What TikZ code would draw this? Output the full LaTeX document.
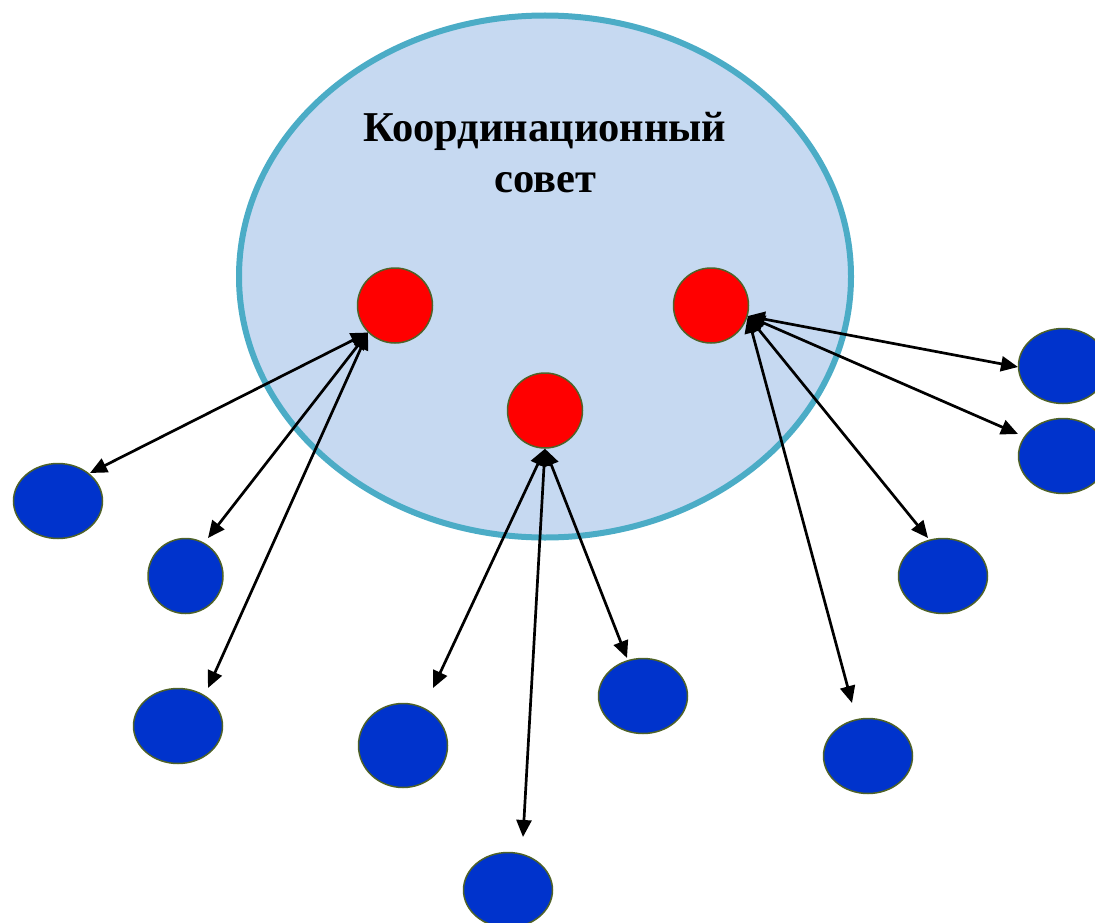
\documentclass[tikz,border=0pt]{standalone}
\usepackage{fontspec}
\setmainfont{Liberation Serif}
\usetikzlibrary{shapes.geometric,arrows.meta}
\definecolor{councilfill}{HTML}{C6D9F1}
\definecolor{councilline}{HTML}{4BACC6}
\definecolor{memberblue}{HTML}{0033CC}
\definecolor{outline}{HTML}{4F6228}
\tikzset{
  council/.style={ellipse, draw=councilline, line width=6pt, fill=councilfill, minimum width=612pt, minimum height=522pt, inner sep=0pt},
  leader/.style={circle, draw=outline, line width=1.5pt, fill=red, minimum size=75pt, inner sep=0pt},
  member/.style={ellipse, draw=outline, line width=1.5pt, fill=memberblue, minimum width=89pt, minimum height=75pt, inner sep=0pt},
  link/.style={line width=2.7pt, {Triangle[length=17pt,width=15pt]}-{Triangle[length=17pt,width=15pt]}},
  titletext/.style={font=\bfseries\fontsize{42.5}{50}\selectfont, anchor=base, inner sep=0pt}
}
\begin{document}
\begin{tikzpicture}[x=1pt,y=-1pt]
\useasboundingbox (0,0) rectangle (1095,923);
\node[council] (council) at (545,276.5) {};
\node[titletext] (title1) at (545,142) {Координационный};
\node[titletext] (title2) at (545,192) {совет};
\node[leader] (r1) at (395,305.5) {};
\node[leader] (r2) at (711,305.5) {};
\node[leader] (r3) at (545,410.5) {};
\node[member] (b1) at (58,501) {};
\node[member, minimum width=75pt] (b2) at (185.5,576) {};
\node[member] (b3) at (178,726) {};
\node[member, minimum height=84pt] (b4) at (403,745.5) {};
\node[member] (b5) at (508,890) {};
\node[member] (b6) at (643,696) {};
\node[member] (b7) at (868,756) {};
\node[member] (b8) at (943,576) {};
\node[member] (b9) at (1063,366) {};
\node[member] (b10) at (1063,456) {};
\coordinate (e1) at (90,473);
\coordinate (e2) at (208,538);
\coordinate (e3) at (208,688);
\coordinate (e4) at (433,688);
\coordinate (e5) at (523,837);
\coordinate (e6) at (627,658);
\coordinate (e7) at (852,703);
\coordinate (e8) at (928,538);
\coordinate (e9) at (1018,367);
\coordinate (e10) at (1018,434);
\draw[link] (r1.225) -- (e1);
\draw[link] (r1.225) -- (e2);
\draw[link] (r1.225) -- (e3);
\draw[link] (r3.south) -- (e4);
\draw[link] (r3.south) -- (e5);
\draw[link] (r3.south) -- (e6);
\draw[link] (r2.-16) -- (e7);
\draw[link] (r2.-16) -- (e8);
\draw[link] (r2.-16) -- (e9);
\draw[link] (r2.-16) -- (e10);
\end{tikzpicture}
\end{document}
